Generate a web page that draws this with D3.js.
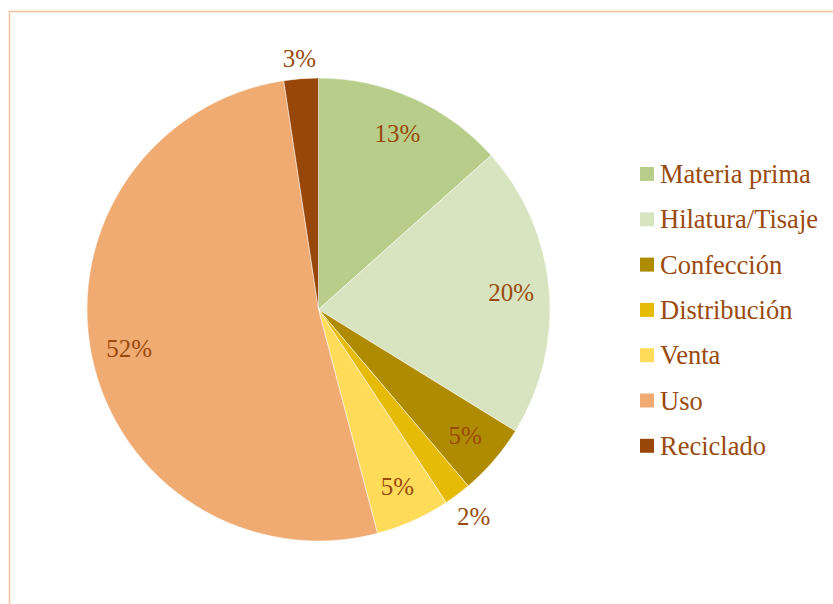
<!DOCTYPE html>
<html>
<head>
<meta charset="utf-8">
<script src="https://cdn.jsdelivr.net/npm/d3@7"></script>
<style>
  body { margin: 0; background: #fff; }
</style>
</head>
<body>
<div class="chart"></div>
<script>
const categories = ["Materia prima", "Hilatura/Tisaje", "Confección", "Distribución", "Venta", "Uso", "Reciclado"];
const values = [13.4, 20.4, 5.0, 1.9, 5.2, 51.7, 2.4];
const labels = ["13%", "20%", "5%", "2%", "5%", "52%", "3%"];
const colors = ["#b7cd89", "#d8e4bf", "#ae8b00", "#e6bb05", "#ffdb5a", "#f0ab73", "#994708"];

const w = 833;
const h = 604;
const cx = 318.5, cy = 309.5, r = 231.5;
const textColor = "#9a4a0c";

var svg = d3.select(".chart").append("svg")
            .attr("width", w)
            .attr("height", h);

// frame (only top / left show in the picture)
svg.append("rect")
   .attr("x", 9.5).attr("y", 11.5)
   .attr("width", w + 20).attr("height", h + 20)
   .attr("fill", "none")
   .attr("stroke", "#f7c4a0")
   .attr("stroke-width", 1.6);

var pie = d3.pie().sort(null).value(d => d);
var arcs = pie(values);
var arc = d3.arc().innerRadius(0).outerRadius(r);

var g = svg.append("g").attr("transform", "translate(" + cx + "," + cy + ")");

g.selectAll(".slice")
 .data(arcs)
 .enter().append("path")
 .attr("class", "slice")
 .attr("d", arc)
 .attr("fill", (d, i) => colors[i])
 .attr("stroke", "#fff")
 .attr("stroke-width", 0.5);

// labels: inside for big slices, outside for tiny ones
g.selectAll(".lbl")
 .data(arcs)
 .enter().append("text")
 .attr("class", "lbl")
 .attr("text-anchor", "middle")
 .attr("dy", "0.35em")
 .attr("fill", textColor)
 .attr("font-family", "Liberation Serif")
 .attr("font-size", 25)
 .text((d, i) => labels[i])
 .attr("transform", function (d) {
    var a = (d.startAngle + d.endAngle) / 2;
    var s = Math.sin(a), c = Math.cos(a);
    var dist;
    if (d.data < 2.5) {
      var bb = this.getBBox();
      dist = r + 9 + Math.abs(s) * bb.width / 2 + Math.abs(c) * bb.height / 2 * 0.75;
    } else {
      dist = r * 0.835;
    }
    return "translate(" + (s * dist) + "," + (-c * dist) + ")";
 });

// legend
var legend = svg.append("g").attr("transform", "translate(640,174)");
var row = legend.selectAll(".row")
  .data(categories)
  .enter().append("g")
  .attr("class", "row")
  .attr("transform", (d, i) => "translate(0," + (i * 45.3) + ")");

row.append("rect")
   .attr("x", 0).attr("y", -7)
   .attr("width", 14).attr("height", 14)
   .attr("fill", (d, i) => colors[i]);

row.append("text")
   .attr("x", 20)
   .attr("y", 9)
   .attr("fill", textColor)
   .attr("font-family", "Liberation Serif")
   .attr("font-size", 26.5)
   .text(d => d);
</script>
</body>
</html>
